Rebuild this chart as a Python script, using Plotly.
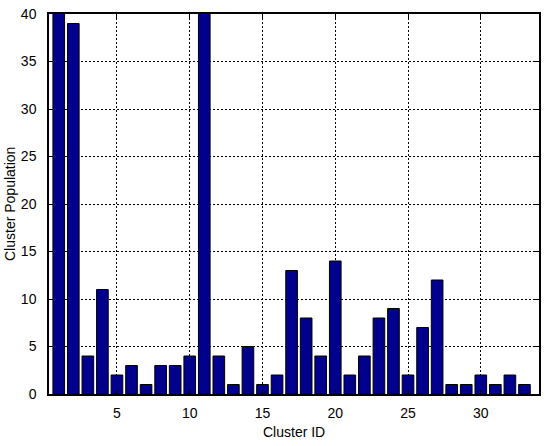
import plotly.graph_objects as go

cluster_ids = list(range(1, 34))
populations = [42, 39, 4, 11, 2, 3, 1, 3, 3, 4, 42, 4, 1, 5, 1, 2, 13, 8, 4, 14,
               2, 4, 8, 9, 2, 7, 12, 1, 1, 2, 1, 2, 1]
x_ticks = [5, 10, 15, 20, 25, 30]
y_ticks = [0, 5, 10, 15, 20, 25, 30, 35, 40]
x_title = "Cluster ID"
y_title = "Cluster Population"

fig = go.Figure(go.Bar(
    x=cluster_ids, y=populations, width=0.8,
    marker=dict(color="#00008C", line=dict(color="black", width=1)),
))

font = dict(family="Liberation Sans, Arial", size=14, color="black")
axis_common = dict(
    showline=True, linecolor="black", linewidth=1.5, mirror="allticks",
    ticks="inside", ticklen=4, tickcolor="black",
    showgrid=True, gridcolor="black", griddash="2px,2px", gridwidth=1,
    zeroline=False, automargin=False, ticklabeloverflow="allow",
    tickfont=font,
)

fig.update_layout(
    width=550, height=446,
    margin=dict(l=49, r=11, t=14, b=52),
    paper_bgcolor="white", plot_bgcolor="white",
    showlegend=False,
    xaxis=dict(range=[0.33, 34], tickvals=x_ticks, ticklabelstandoff=5, **axis_common),
    yaxis=dict(range=[0, 40], tickvals=y_ticks, ticklabelstandoff=8, **axis_common),
    annotations=[
        dict(text=x_title, xref="paper", yref="paper", x=0.5, y=-0.099,
             xanchor="center", yanchor="middle", showarrow=False, font=font),
        dict(text=y_title, xref="paper", yref="paper", x=-0.0796, y=0.5,
             xanchor="center", yanchor="middle", textangle=-90, showarrow=False, font=font),
    ],
)

# remove the default 8px page margin so the figure fills the window exactly
fig.write_html("out.html", config={"displayModeBar": False},
               post_script="document.body.style.margin='0';")
